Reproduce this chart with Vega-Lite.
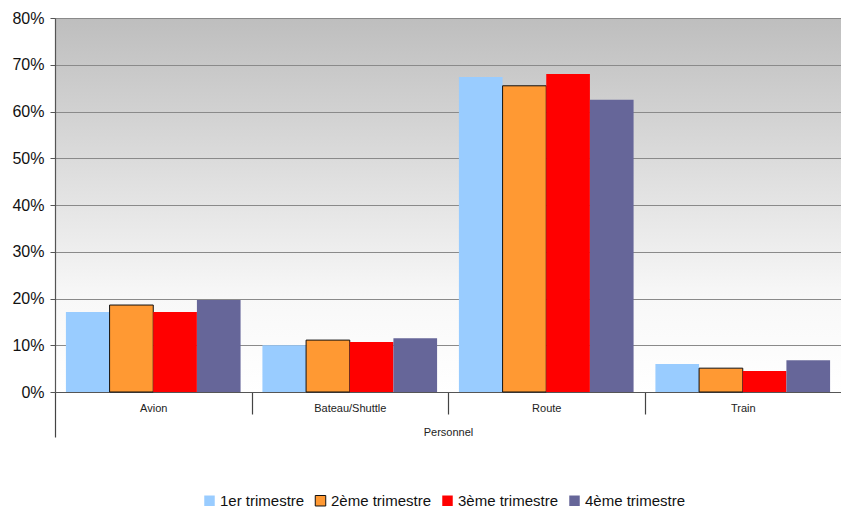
{
  "$schema": "https://vega.github.io/schema/vega-lite/v6.json",
  "width": 786,
  "height": 374,
  "autosize": {"type": "none"},
  "padding": {"left": 55, "top": 18, "right": 0, "bottom": 116},
  "background": "white",
  "config": {
    "font": "Liberation Sans",
    "view": {
      "stroke": null,
      "fill": {"gradient": "linear", "x1": 0, "y1": 0, "x2": 0, "y2": 1,
        "stops": [{"offset": 0, "color": "#bebebe"}, {"offset": 0.75, "color": "#f8f8f8"}, {"offset": 1, "color": "#ffffff"}]}
    }
  },
  "data": {"values": [
    {"mode": "Avion", "trimestre": "1er trimestre", "value": 0.171},
    {"mode": "Avion", "trimestre": "2ème trimestre", "value": 0.186},
    {"mode": "Avion", "trimestre": "3ème trimestre", "value": 0.171},
    {"mode": "Avion", "trimestre": "4ème trimestre", "value": 0.197},
    {"mode": "Bateau/Shuttle", "trimestre": "1er trimestre", "value": 0.100},
    {"mode": "Bateau/Shuttle", "trimestre": "2ème trimestre", "value": 0.111},
    {"mode": "Bateau/Shuttle", "trimestre": "3ème trimestre", "value": 0.107},
    {"mode": "Bateau/Shuttle", "trimestre": "4ème trimestre", "value": 0.115},
    {"mode": "Route", "trimestre": "1er trimestre", "value": 0.674},
    {"mode": "Route", "trimestre": "2ème trimestre", "value": 0.655},
    {"mode": "Route", "trimestre": "3ème trimestre", "value": 0.680},
    {"mode": "Route", "trimestre": "4ème trimestre", "value": 0.625},
    {"mode": "Train", "trimestre": "1er trimestre", "value": 0.060},
    {"mode": "Train", "trimestre": "2ème trimestre", "value": 0.051},
    {"mode": "Train", "trimestre": "3ème trimestre", "value": 0.045},
    {"mode": "Train", "trimestre": "4ème trimestre", "value": 0.068}
  ]},
  "mark": {"type": "bar", "strokeWidth": 1},
  "encoding": {
    "x": {
      "field": "mode", "type": "nominal",
      "sort": ["Avion", "Bateau/Shuttle", "Route", "Train"],
      "scale": {"paddingInner": 0, "paddingOuter": 0},
      "axis": {
        "title": "Personnel", "titleFontSize": 11, "titleFontWeight": "normal", "titleColor": "#222", "titlePadding": -11,
        "labelAngle": 0, "labelFontSize": 11, "labelColor": "#222", "labelPadding": -12,
        "tickBand": "extent",
        "tickSize": {"condition": {"test": "datum.extra", "value": 45}, "value": 22},
        "tickOpacity": {"condition": {"test": "!datum.extra && datum.value === 'Train'", "value": 0}, "value": 1},
        "tickColor": "#444", "tickWidth": 1.2,
        "domainColor": "#555", "domainWidth": 1.2
      }
    },
    "xOffset": {
      "field": "trimestre", "type": "nominal",
      "scale": {"paddingInner": 0, "paddingOuter": 0.25}
    },
    "y": {
      "field": "value", "type": "quantitative",
      "scale": {"domain": [0, 0.8], "nice": false},
      "axis": {
        "title": null, "format": ".0%", "values": [0, 0.1, 0.2, 0.3, 0.4, 0.5, 0.6, 0.7, 0.8],
        "labelFontSize": 16, "labelColor": "#111", "labelPadding": 6,
        "grid": true, "gridColor": "#8a8a8a", "gridWidth": 1,
        "tickSize": 5, "tickColor": "#555", "domainColor": "#555", "domainWidth": 1.2
      }
    },
    "color": {
      "field": "trimestre", "type": "nominal",
      "scale": {"domain": ["1er trimestre", "2ème trimestre", "3ème trimestre", "4ème trimestre"],
        "range": ["#99ccff", "#ff9933", "#ff0000", "#666699"]},
      "legend": {
        "title": null, "orient": "none", "legendX": 147, "legendY": 475, "direction": "horizontal",
        "symbolType": "square", "symbolSize": 110, "symbolOpacity": 1, "symbolStrokeWidth": 1,
        "labelFontSize": 15, "labelColor": "#111", "columnPadding": 8, "labelOffset": 3
      }
    },
    "stroke": {
      "field": "trimestre", "type": "nominal",
      "scale": {"domain": ["1er trimestre", "2ème trimestre", "3ème trimestre", "4ème trimestre"],
        "range": ["transparent", "#111111", "transparent", "transparent"]},
      "legend": {
        "title": null, "orient": "none", "legendX": 147, "legendY": 475, "direction": "horizontal",
        "symbolType": "square", "symbolSize": 110, "symbolOpacity": 1, "symbolStrokeWidth": 1,
        "labelFontSize": 15, "labelColor": "#111", "columnPadding": 8, "labelOffset": 3
      }
    }
  }
}
